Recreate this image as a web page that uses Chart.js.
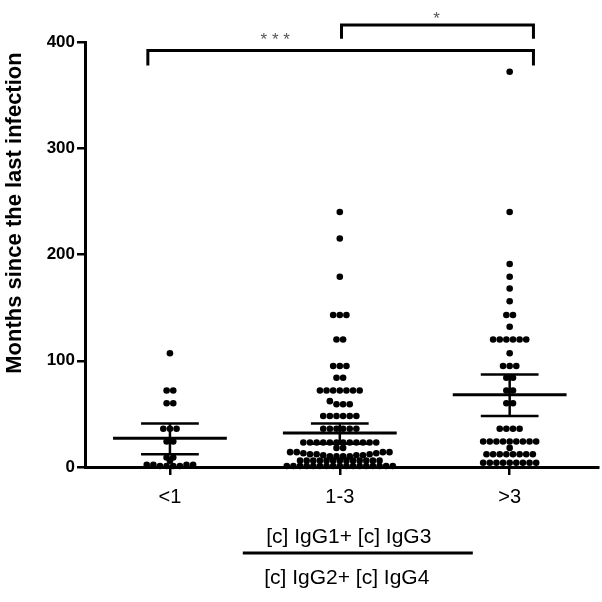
<!DOCTYPE html>
<html>
<head>
<meta charset="utf-8">
<script src="https://cdn.jsdelivr.net/npm/chart.js@4"></script>
<style>
  html, body { margin: 0; padding: 0; background: #fff; }
</style>
</head>
<body>
<canvas id="dotChart" width="602" height="602"></canvas>
<script>
var categories = ['<1', '1-3', '>3'];

// months since the last infection, one value per patient
var lessThanOne = [107, 72, 72, 60, 60, 36, 36, 36, 24, 24, 9, 9, 6,
  2, 1, 2, 1, 2, 1, 2, 1];
var oneToThree = [240, 215, 179, 143, 143, 143, 120, 120, 95, 95, 95, 84, 84,
  72, 72, 72, 72, 72, 72, 72, 62, 59, 59, 59,
  48, 48, 48, 48, 48, 48, 36, 36, 36, 36, 36, 36,
  23, 23, 23, 23, 23, 23, 23, 23, 23, 23, 23, 23, 18, 18,
  10, 10, 10, 10, 11, 11, 11, 12, 12, 12, 13, 13, 14, 14, 14, 14,
  6, 6, 6, 6, 6, 6, 6, 6, 6, 6, 6, 6, 6,
  1, 1, 1, 1, 1, 1, 1, 1, 1, 1, 1, 1, 1, 1, 1, 1, 1];
var moreThanThree = [372, 240, 191, 179, 168, 156, 143, 143, 132,
  120, 120, 120, 120, 120, 120, 107, 95, 95, 95, 84, 84, 72, 72, 60, 60,
  36, 36, 36, 36, 24, 24, 24, 24, 24, 24, 24, 24, 24, 18,
  12, 12, 12, 12, 12, 12, 12, 12, 4, 4, 4, 4, 4, 4, 4, 4, 4];

// mean with error bar ends
var means = [27, 32, 68];
var upperErr = [41, 41, 87];
var lowerErr = [12, 22, 48];

var yTicks = [0, 100, 200, 300, 400];

var BIN = 6;       // value span of one dot row
var STEP = 0.039;  // gap between dots in a row, in category units

function swarm(values, centre) {
  var rows = {};
  values.slice().sort(function (a, b) { return a - b; }).forEach(function (v) {
    var k = Math.round(v / BIN);
    (rows[k] = rows[k] || []).push(v);
  });
  var pts = [];
  Object.keys(rows).forEach(function (k) {
    var row = rows[k], n = row.length;
    row.forEach(function (v, i) {
      var slot = i === 0 ? 0 : (i % 2 ? -1 : 1) * Math.ceil(i / 2);
      if (n % 2 === 0) slot += 0.5;
      pts.push({ x: centre + slot * STEP, y: v });
    });
  });
  return pts;
}

function segment(x0, x1, y0, y1, width) {
  return {
    data: [{ x: x0, y: y0 }, { x: x1, y: y1 }],
    showLine: true,
    borderColor: '#000',
    borderWidth: width,
    pointRadius: 0,
    pointHoverRadius: 0,
    clip: false
  };
}

var datasets = [];
means.forEach(function (m, i) {
  datasets.push(segment(i - 0.335, i + 0.335, m, m, 3));
  datasets.push(segment(i - 0.17, i + 0.17, upperErr[i], upperErr[i], 2.5));
  datasets.push(segment(i - 0.17, i + 0.17, lowerErr[i], lowerErr[i], 2.5));
  datasets.push(segment(i, i, lowerErr[i], upperErr[i], 2.5));
});
[lessThanOne, oneToThree, moreThanThree].forEach(function (vals, i) {
  datasets.push({
    data: swarm(vals, i),
    backgroundColor: '#000',
    borderWidth: 0,
    pointRadius: 3.3,
    clip: false
  });
});

var annotations = {
  id: 'annotations',
  afterDraw: function (chart) {
    var ctx = chart.ctx, x = chart.scales.x, y = chart.scales.y;
    ctx.save();
    ctx.strokeStyle = '#000';
    ctx.fillStyle = '#000';
    ctx.lineWidth = 3;

    function bracket(from, to, top, foot) {
      ctx.beginPath();
      ctx.moveTo(x.getPixelForValue(from), y.getPixelForValue(foot));
      ctx.lineTo(x.getPixelForValue(from), y.getPixelForValue(top));
      ctx.lineTo(x.getPixelForValue(to), y.getPixelForValue(top));
      ctx.lineTo(x.getPixelForValue(to), y.getPixelForValue(foot));
      ctx.stroke();
    }
    bracket(-0.13, 2.14, 392, 378);
    bracket(1.01, 2.14, 416, 403);

    ctx.fillStyle = '#555';
    ctx.font = '17px "Liberation Sans"';
    ctx.textAlign = 'center';
    ctx.textBaseline = 'middle';
    ctx.fillText('* * *', x.getPixelForValue(0.62), y.getPixelForValue(402));
    ctx.fillText('*', x.getPixelForValue(1.57), y.getPixelForValue(421));

    // y axis title
    ctx.fillStyle = '#000';
    ctx.save();
    ctx.translate(15, y.getPixelForValue(239));
    ctx.rotate(-Math.PI / 2);
    ctx.font = 'bold 22px "Liberation Sans"';
    ctx.fillText('Months since the last infection', 0, 0);
    ctx.restore();

    // ratio label under the axis
    var cx = x.getPixelForValue(1);
    var base = chart.chartArea.bottom;
    ctx.font = '21px "Liberation Sans"';
    ctx.fillText('[c] IgG1+ [c] IgG3', cx + 9, base + 70);
    ctx.fillText('[c] IgG2+ [c] IgG4', cx + 7, base + 111);
    ctx.beginPath();
    ctx.moveTo(cx - 97, base + 86);
    ctx.lineTo(cx + 133, base + 86);
    ctx.stroke();
    ctx.restore();
  }
};

new Chart(document.getElementById('dotChart'), {
  type: 'scatter',
  data: { datasets: datasets },
  options: {
    responsive: false,
    animation: false,
    layout: { padding: { top: 42, right: 4, left: 0, bottom: 0 } },
    plugins: {
      legend: { display: false },
      tooltip: { enabled: false }
    },
    scales: {
      x: {
        type: 'linear',
        min: -0.5,
        max: 2.52,
        afterBuildTicks: function (scale) {
          scale.ticks = categories.map(function (c, i) { return { value: i }; });
        },
        afterFit: function (scale) { scale.height = 135; },
        ticks: {
          autoSkip: false,
          maxRotation: 0,
          padding: 10,
          color: '#000',
          font: { family: 'Liberation Sans', size: 20 },
          callback: function (v) { return categories[v]; }
        },
        grid: { drawOnChartArea: false, tickLength: 8, color: '#000', lineWidth: 2.5 },
        border: { color: '#000', width: 3 }
      },
      y: {
        min: 0,
        max: 400,
        afterBuildTicks: function (scale) {
          scale.ticks = yTicks.map(function (v) { return { value: v }; });
        },
        afterFit: function (scale) { scale.width = 85; },
        ticks: {
          padding: 2,
          color: '#000',
          font: { family: 'Liberation Sans', size: 17, weight: 'bold' }
        },
        grid: { drawOnChartArea: false, tickLength: 8, color: '#000', lineWidth: 2.5 },
        border: { color: '#000', width: 3 }
      }
    }
  },
  plugins: [annotations]
});
</script>
</body>
</html>
